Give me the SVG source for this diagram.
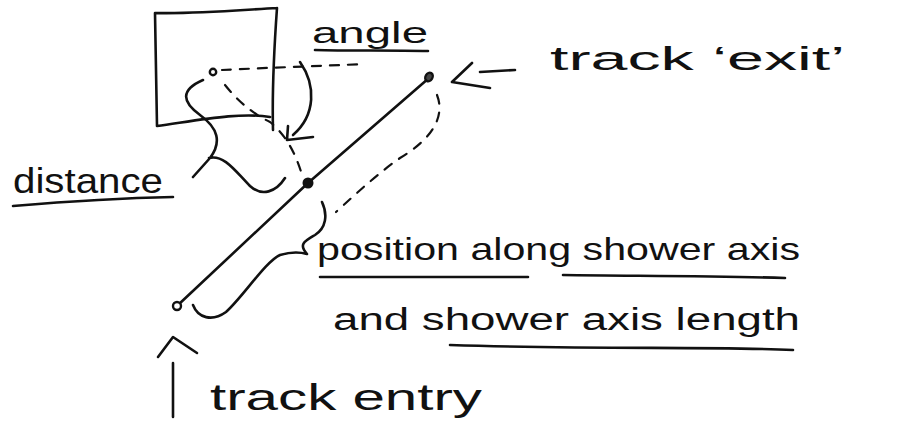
<svg xmlns="http://www.w3.org/2000/svg" width="920" height="438" viewBox="0 0 920 438">
<style>
.s{fill:none;stroke:#111;stroke-width:2.6;stroke-linecap:round;stroke-linejoin:round}
.d{fill:none;stroke:#111;stroke-width:2.2;stroke-linecap:round;stroke-dasharray:9 9}
.t{font-family:"Liberation Sans","DejaVu Sans",sans-serif;fill:#111}
</style>
<rect width="920" height="438" fill="#fff"/>
<g id="detector-plane">
<path class="s" d="M155,13 C200,14 240,10 277,8 M155,13 L157,126 M157,126 C200,120 240,112 270,117 M277,8 C274,50 272,90 273,130"/>
<circle cx="213" cy="72" r="3.2" fill="#fff" stroke="#111" stroke-width="2.4"/>
</g>
<g id="track">
<path class="s" d="M178,305 L308,183 L429,78"/>
<circle cx="177" cy="306" r="4" fill="#fff" stroke="#111" stroke-width="2.4"/>
<circle cx="308" cy="183" r="5.5" fill="#111"/>
<ellipse cx="429" cy="77" rx="3.5" ry="4.5" transform="rotate(30 429 77)" fill="#444" stroke="#111" stroke-width="2.4"/>
</g>
<g id="connectors">
<path class="d" d="M222,70 C260,68 320,66 365,64"/>
<path class="d" d="M225,85 Q245,110 270,122 Q292,140 302,175"/>
<path class="d" d="M437,95 C446,118 430,140 400,158 C380,172 360,190 336,212"/>
<path class="s" d="M300,62 C316,85 316,115 293,135 M313,137 L287,140 L288,126"/>
<path class="s" d="M203,80 C180,90 182,102 200,115 C218,128 222,142 210,158 L193,177 M209,158 C224,154 236,172 250,186 C262,197 276,192 285,178"/>
<path class="s" d="M322,202 C328,215 326,228 315,235 C305,241 298,244 307,254 C300,252 290,252 280,255 C266,261 242,298 226,312 C212,322 198,318 193,305"/>
<path class="s" d="M472,63 L452,82 L490,88 M480,72 L515,70"/>
<path class="s" d="M158,357 L173,337 L197,353 M173,363 L173,417"/>
</g>
<g id="label-angle">
<text class="t" x="312" y="43" font-size="30" textLength="116" lengthAdjust="spacingAndGlyphs">angle</text>
<path class="s" d="M315,50 C350,51 390,50 428,51"/>
</g>
<g id="label-exit">
<text class="t" x="550" y="70" font-size="33" textLength="295" lengthAdjust="spacingAndGlyphs">track ‘exit’</text>
</g>
<g id="label-distance">
<text class="t" x="13" y="193" font-size="35" textLength="150" lengthAdjust="spacingAndGlyphs">distance</text>
<path class="s" d="M13,206 C60,202 120,198 173,197"/>
</g>
<g id="label-position">
<text class="t" x="317" y="260" font-size="32" textLength="483" lengthAdjust="spacingAndGlyphs">position along shower axis</text>
<path class="s" d="M320,277 L528,277 M563,275 C640,276 720,276 785,278"/>
<text class="t" x="333" y="330" font-size="31" textLength="467" lengthAdjust="spacingAndGlyphs">and shower axis length</text>
<path class="s" d="M450,345 C600,350 700,346 793,350"/>
</g>
<g id="label-entry">
<text class="t" x="210" y="410" font-size="37" textLength="272" lengthAdjust="spacingAndGlyphs">track entry</text>
</g>
</svg>
